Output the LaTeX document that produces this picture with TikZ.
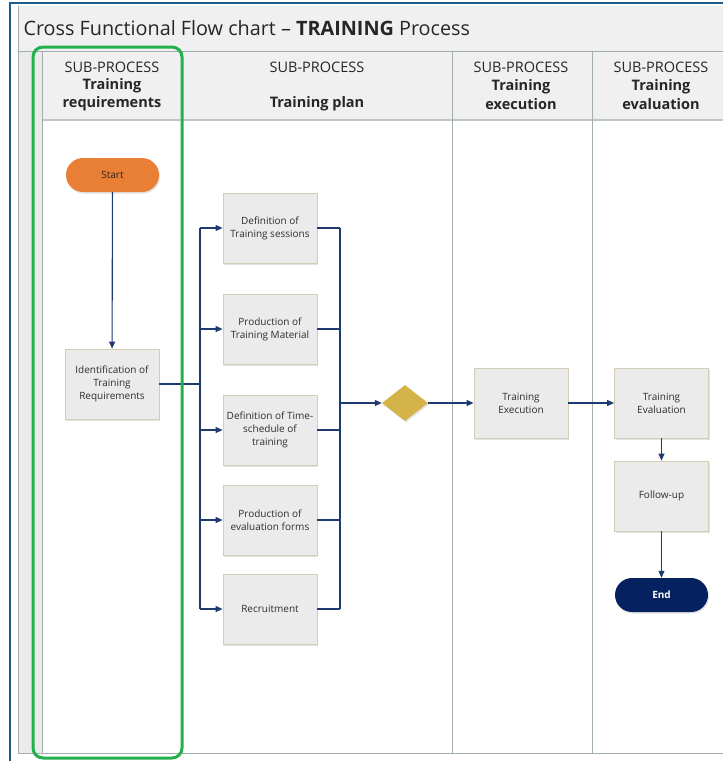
\documentclass[tikz,border=0pt]{standalone}
\usepackage{fontspec}
\setmainfont{Open Sans}
\usetikzlibrary{arrows.meta,shapes.geometric,shadows}
\definecolor{navy}{HTML}{1F3A6E}
\definecolor{framegray}{HTML}{A3AEAE}
\definecolor{bandgray}{HTML}{F0F0F0}
\definecolor{boxgray}{HTML}{EBEBEB}
\definecolor{boxborder}{HTML}{D3CDB4}
\definecolor{txtgray}{HTML}{2E2E2E}
\definecolor{outerblue}{HTML}{1F5C8A}
\definecolor{hlgreen}{HTML}{22B14C}
\definecolor{startor}{HTML}{E97E35}
\definecolor{endnavy}{HTML}{06215F}
\definecolor{gold}{HTML}{D4B348}
\tikzset{
  x=1pt, y=-1pt,
  procbox/.style={rectangle, draw=boxborder, line width=0.8pt, fill=boxgray,
    minimum width=94pt, minimum height=70pt, align=center, inner sep=2pt,
    text=txtgray, font=\fontsize{10}{13}\selectfont,
    drop shadow={opacity=0.22, shadow xshift=1pt, shadow yshift=-1.5pt}},
  termbox/.style={rectangle, rounded corners=17pt, minimum width=93pt, minimum height=34pt,
    align=center, font=\fontsize{10}{12}\selectfont,
    drop shadow={opacity=0.22, shadow xshift=1pt, shadow yshift=-1.5pt}},
  decbox/.style={diamond, fill=gold, minimum width=46pt, minimum height=36pt, inner sep=0pt,
    drop shadow={opacity=0.22, shadow xshift=1pt, shadow yshift=-1.5pt}},
  conn/.style={draw=navy, line width=1.1pt},
  arr/.style={conn, -{Triangle[length=7pt,width=6pt]}},
  lane/.style={draw=framegray, line width=0.8pt},
  hdr/.style={align=center, text=black!85, font=\fontsize{14.5}{18.5}\selectfont},
  hdrb/.style={hdr, font=\bfseries\fontsize{14.5}{18.5}\selectfont},
}
\begin{document}
\begin{tikzpicture}
\useasboundingbox (0,0) rectangle (723,761);
\fill[white] (0,0) rectangle (723,761);
% frame bands
\fill[bandgray] (18,6) rectangle (723,119);
\fill[boxgray] (18,51) rectangle (42,753);
\draw[lane] (18,6) -- (18,753) -- (723,753);
\draw[lane] (18,51) -- (723,51);
\draw[draw=framegray!70, line width=2pt] (42,120) -- (723,120);
\foreach \xx in {42,182,452,592} { \draw[lane] (\xx,51) -- (\xx,753); }
% outer blue lines
\draw[outerblue, line width=2pt] (10,761) -- (10,3) -- (723,3);
% title
\node[anchor=west, font=\fontsize{19.8}{23}\selectfont, text=black!85] (title) at (20,28)
  {Cross Functional Flow chart -- \textbf{TRAINING} Process};
% headers
\node[hdr] (h1a) at (112,67) {SUB-PROCESS};
\node[hdrb] (h1b) at (112,94.5) {Training\\requirements};
\node[hdr] (h2a) at (317,67) {SUB-PROCESS};
\node[hdrb] (h2b) at (317,103.5) {Training plan};
\node[hdr] (h3a) at (521,67) {SUB-PROCESS};
\node[hdrb] (h3b) at (521,94.5) {Training\\execution};
\node[hdr] (h4a) at (661,67) {SUB-PROCESS};
\node[hdrb] (h4b) at (661,94.5) {Training\\evaluation};
% nodes
\node[termbox, fill=startor, text=black!85] (start) at (112.5,175) {Start};
\node[procbox] (ident) at (112,384) {Identification of\\Training\\Requirements};
\node[procbox] (ds) at (270,228) {Definition of\\Training sessions};
\node[procbox] (pm) at (270,329) {Production of\\Training Material};
\node[procbox] (ts) at (270,430) {Definition of Time-\\schedule of\\training};
\node[procbox] (ef) at (270,520) {Production of\\evaluation forms};
\node[procbox] (rc) at (270,609) {Recruitment};
\node[decbox] (dec) at (405,403) {};
\node[procbox] (ex) at (521,403) {Training\\Execution};
\node[procbox] (ev) at (661.5,403) {Training\\Evaluation};
\node[procbox] (fu) at (661.5,496) {Follow-up};
\node[termbox, fill=endnavy, text=white, font=\bfseries\fontsize{10}{12}\selectfont] (end) at (661.5,595) {End};
% bus coordinates
\coordinate (bl) at (200,384);
\coordinate (br) at (340,403);
% connectors
\draw[arr] (start) -- (ident);
\draw[conn] (ident.east) -- (bl);
\draw[conn] (ds.west -| bl) -- (rc.west -| bl);
\foreach \n in {ds,pm,ts,ef,rc} { \draw[arr] (\n.west -| bl) -- (\n.west); }
\foreach \n in {ds,pm,ts,ef,rc} { \draw[conn] (\n.east) -- (\n.east -| br); }
\draw[conn] (ds.east -| br) -- (rc.east -| br);
\draw[arr] (br) -- (dec.west);
\draw[arr] (dec.east) -- (ex.west);
\draw[arr] (ex.east) -- (ev.west);
\draw[arr] (ev.south) -- (fu.north);
\draw[arr] (fu.south) -- (end.north);
% highlight
\draw[hlgreen, line width=3pt, rounded corners=10pt] (33,47) rectangle (182,758);
\end{tikzpicture}
\end{document}
